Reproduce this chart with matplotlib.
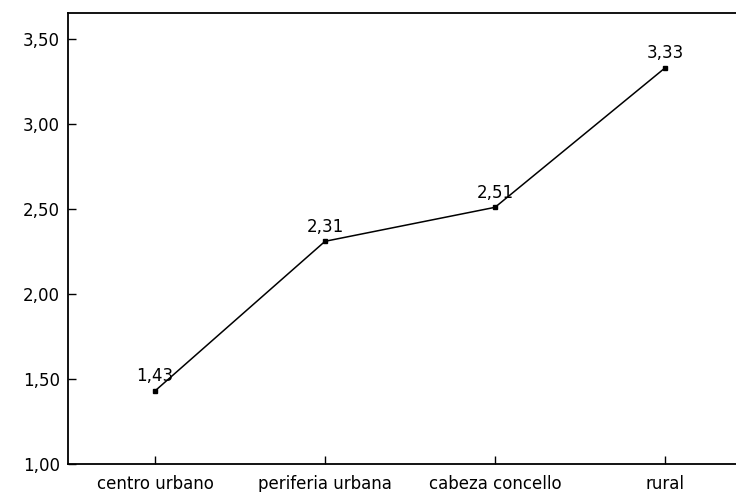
import matplotlib.pyplot as plt

categories = ["centro urbano", "periferia urbana", "cabeza concello", "rural"]
values = [1.43, 2.31, 2.51, 3.33]
yticks = [1.0, 1.5, 2.0, 2.5, 3.0, 3.5]

plt.rcParams['font.family'] = ['DejaVu Sans']

fig = plt.figure(figsize=(7.36, 4.92), dpi=100)
ax = fig.add_axes([68/736, 28/492, 680/736, 451/492])

x = list(range(len(categories)))
ax.plot(x, values, color='black', linewidth=1.1, marker='s', markersize=3.5,
        markerfacecolor='black', markeredgecolor='black')

for xi, v in zip(x, values):
    ax.annotate("{:.2f}".format(v).replace('.', ','), (xi, v), xytext=(0, 7),
                textcoords='offset points', ha='center', va='baseline', fontsize=12)

ax.set_xlim(-0.512, 3.488)
ax.set_ylim(1.0, 3.653)
ax.set_xticks(x)
ax.set_xticklabels(categories)
ax.set_yticks(yticks)
ax.set_yticklabels(["{:.2f}".format(t).replace('.', ',') for t in yticks])
ax.tick_params(direction='in', length=6, width=1.0, labelsize=12, colors='black')
ax.tick_params(axis='x', pad=8)
ax.tick_params(axis='y', pad=6)
for s in ax.spines.values():
    s.set_linewidth(1.3)

fig.savefig("out.png", dpi=100)
